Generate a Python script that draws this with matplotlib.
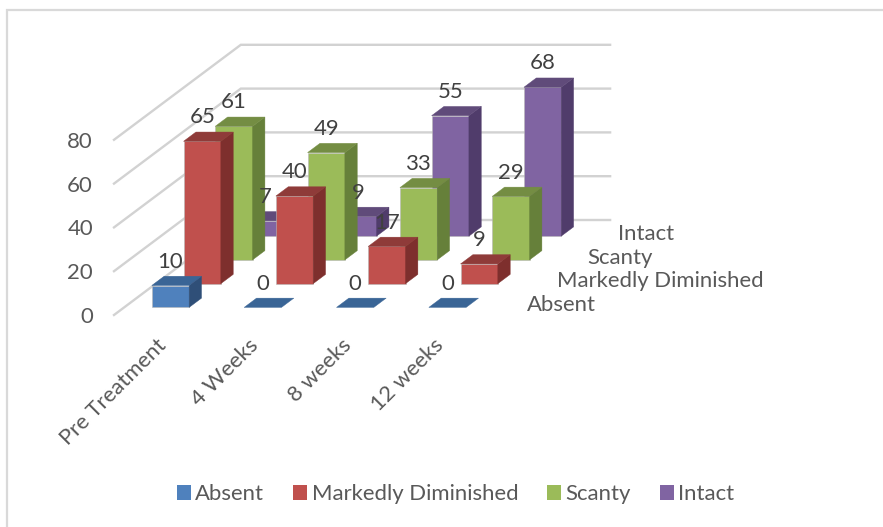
import matplotlib
matplotlib.use("Agg")
import matplotlib.pyplot as plt
from matplotlib.patches import Polygon, Patch

plt.rcParams['font.family'] = ['Lato', 'DejaVu Sans']

categories = ['Pre Treatment', '4 Weeks', '8 weeks', '12 weeks']
series_names = ['Absent', 'Markedly Diminished', 'Scanty', 'Intact']
absent = [10, 0, 0, 0]
markedly = [65, 40, 17, 9]
scanty = [61, 49, 33, 29]
intact = [7, 9, 55, 68]
value_ticks = [0, 20, 40, 60, 80]

# front, top and side colours per series
colors = {
    'Absent': ('#4F81BD', '#3A6596', '#2F4F78'),
    'Markedly Diminished': ('#C0504D', '#8F3B39', '#7E2F2D'),
    'Scanty': ('#9BBB59', '#748D43', '#66803A'),
    'Intact': ('#8064A2', '#604B7A', '#503C6B'),
}
text_color = '#595959'
grid_color = '#D2D2D2'
font_size = 15.9

# oblique projection of the 3d box onto the flat axes
X0, Y0 = 114, 315
CAT_STEP = 92.33
SER_DX, SER_DY = 31.7, 23.75
VAL_H = 2.19
BAR_W = 0.404
BAR_D = 0.39
CAT_OFF = 0.30
SER_OFF = 0.32


def proj(c, s, v=0):
    return X0 + CAT_STEP * c + SER_DX * s, Y0 - SER_DY * s - VAL_H * v


fig = plt.figure(figsize=(8.83, 5.27), dpi=100)
ax = fig.add_axes([0, 0, 1, 1])
ax.set_xlim(0, 883)
ax.set_ylim(527, 0)
ax.axis('off')

# chart frame, only the top and left edges fall inside the image
ax.plot([7, 7, 883], [527, 10, 10], color='#D9D9D9', lw=1.6, solid_joinstyle='miter')

# gridlines on the side wall and the back wall
n_cat = len(categories)
n_ser = len(series_names)
for v in value_ticks:
    xs = [proj(0, 0, v)[0], proj(0, n_ser, v)[0], proj(n_cat, n_ser, v)[0]]
    ys = [proj(0, 0, v)[1], proj(0, n_ser, v)[1], proj(n_cat, n_ser, v)[1]]
    ax.plot(xs, ys, color=grid_color, lw=1.7, solid_joinstyle='miter', zorder=1)
    ax.text(proj(0, 0, v)[0] - 21, proj(0, 0, v)[1] + 2, str(v), ha='right', va='center',
            color=text_color, fontsize=font_size)


def draw_bar(c, s, v, front, top, side, z):
    c0, c1 = c + CAT_OFF, c + CAT_OFF + BAR_W
    s0, s1 = s + SER_OFF, s + SER_OFF + BAR_D
    if v > 0:
        ax.add_patch(Polygon([proj(c0, s0), proj(c1, s0), proj(c1, s0, v), proj(c0, s0, v)],
                             fc=front, ec='#B8B8B8', lw=0.4, zorder=z))
        ax.add_patch(Polygon([proj(c1, s0), proj(c1, s1), proj(c1, s1, v), proj(c1, s0, v)],
                             fc=side, ec=side, lw=0.3, zorder=z))
    ax.add_patch(Polygon([proj(c0, s0, v), proj(c1, s0, v), proj(c1, s1, v), proj(c0, s1, v)],
                         fc=top, ec=top, lw=0.3, zorder=z))


all_values = [absent, markedly, scanty, intact]
# back row first so the front rows cover it
for s in range(n_ser - 1, -1, -1):
    name = series_names[s]
    front, top, side = colors[name]
    for c, v in enumerate(all_values[s]):
        z = 10 + (n_ser - s) * 10 + c
        draw_bar(c, s, v, front, top, side, z)
        x, y = proj(c + CAT_OFF + BAR_W / 2, s + SER_OFF, v)
        ax.annotate(str(v), (x, y), xytext=(0, 17.2), textcoords='offset points',
                    ha='center', va='center', color='#404040', fontsize=font_size, zorder=100)

# series names along the depth axis
for s, name in enumerate(series_names):
    x, y = proj(n_cat, s + 0.5)
    ax.text(x + 28 - 1.4 * s, y + 2, name, ha='left', va='center', color=text_color,
            fontsize=font_size)

# category names under the floor
for c, name in enumerate(categories):
    x, y = proj(c + 0.5, 0)
    ax.text(x - 4, y + 20, name, ha='right', va='top', rotation=45, rotation_mode='anchor',
            color=text_color, fontsize=font_size)

handles = [Patch(fc=colors[n][0], ec='none', label=n) for n in series_names]
ax.legend(handles=handles, loc='center', bbox_to_anchor=(455.5 / 883, 1 - 494 / 527), ncol=4,
          frameon=False, fontsize=font_size, labelcolor=text_color, handlelength=0.64,
          handleheight=0.64, handletextpad=0.2, columnspacing=1.3)

fig.savefig('out.png', dpi=100)
